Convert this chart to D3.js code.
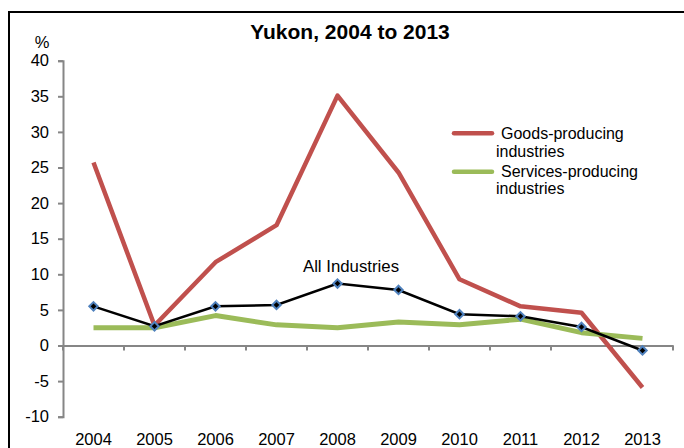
<!DOCTYPE html>
<html><head><meta charset="utf-8">
<script src="https://cdn.jsdelivr.net/npm/d3@7"></script>
<style>body{margin:0;background:#fff}svg{display:block;font-family:"Liberation Sans",Arial,sans-serif}</style>
</head><body><svg id="c" width="684" height="448"></svg>
<script>
const years = ["2004","2005","2006","2007","2008","2009","2010","2011","2012","2013"];
const goods = [25.7, 2.8, 11.7, 16.9, 35.1, 24.3, 9.3, 5.5, 4.6, -5.9];
const services = [2.5, 2.5, 4.2, 2.9, 2.5, 3.3, 2.9, 3.7, 1.8, 1.0];
const allInd = [5.5, 2.7, 5.5, 5.7, 8.7, 7.8, 4.4, 4.1, 2.6, -0.7];
const yTicks = [-10, -5, 0, 5, 10, 15, 20, 25, 30, 35, 40];

const svg = d3.select("#c");
// frame
svg.append("rect").attr("x",9).attr("y",12).attr("width",700).attr("height",460)
  .attr("fill","none").attr("stroke","#000").attr("stroke-width",2);

const x = d3.scaleBand().domain(years).range([63,673]);
const y = d3.scaleLinear().domain([-10,40]).range([416.7,60.7]);
const gray = "#868686";
const fs = 16.5;

// y axis
const ya = svg.append("g").attr("transform","translate(63,0)")
  .call(d3.axisLeft(y).tickValues(yTicks).tickSize(5).tickPadding(9).tickFormat(d=>String(d)));
ya.select(".domain").attr("stroke",gray).attr("stroke-width",2);
ya.selectAll(".tick line").attr("stroke",gray).attr("stroke-width",2);
ya.selectAll(".tick text").attr("font-size",fs).attr("fill","#000")
  .attr("font-family","Liberation Sans, Arial, sans-serif");

// x axis at zero
const xa = svg.append("g").attr("transform",`translate(0,${y(0)})`)
  .call(d3.axisBottom(x).tickSize(0).tickFormat(""));
xa.select(".domain").attr("stroke",gray).attr("stroke-width",2);
const bounds = years.map(d=>x(d)).concat([x.range()[1]]);
svg.append("g").selectAll("line").data(bounds).join("line")
  .attr("x1",d=>d).attr("x2",d=>d).attr("y1",y(0)).attr("y2",y(0)+5)
  .attr("stroke",gray).attr("stroke-width",2);
svg.append("g").selectAll("text").data(years).join("text")
  .attr("x",d=>x(d)+x.bandwidth()/2).attr("y",445).attr("text-anchor","middle")
  .attr("font-size",fs).text(d=>d);

const cx = d => x(d)+x.bandwidth()/2;
const line = d3.line().x((d,i)=>cx(years[i])).y(d=>y(d));
svg.append("path").datum(goods).attr("d",line).attr("fill","none")
  .attr("stroke","#c0504d").attr("stroke-width",4.5).attr("stroke-linejoin","round");
svg.append("path").datum(services).attr("d",line).attr("fill","none")
  .attr("stroke","#9bbb59").attr("stroke-width",5).attr("stroke-linejoin","round");
svg.append("path").datum(allInd).attr("d",line).attr("fill","none")
  .attr("stroke","#000").attr("stroke-width",2.5);
svg.append("g").selectAll("path").data(allInd).join("path")
  .attr("d",d3.symbol(d3.symbolDiamond2,45)())
  .attr("transform",(d,i)=>`translate(${cx(years[i])},${y(d)})`)
  .attr("fill","#000").attr("stroke","#4f81bd").attr("stroke-width",2);

// labels
svg.append("text").attr("x",350).attr("y",38.5).attr("text-anchor","middle")
  .attr("font-size",21).attr("font-weight","bold").text("Yukon, 2004 to 2013");
svg.append("text").attr("x",42).attr("y",48).attr("text-anchor","middle")
  .attr("font-size",fs).text("%");
svg.append("text").attr("x",351).attr("y",272).attr("text-anchor","middle")
  .attr("font-size",16.8).text("All Industries");

// legend
const leg = [{c:"#c0504d",t:["Goods-producing","industries"],y:133.3,b:[139,157]},
             {c:"#9bbb59",t:["Services-producing","industries"],y:171.7,b:[177,194]}];
leg.forEach(l=>{
  svg.append("line").attr("x1",454).attr("x2",492).attr("y1",l.y).attr("y2",l.y)
    .attr("stroke",l.c).attr("stroke-width",4.5).attr("stroke-linecap","round");
  svg.append("text").attr("x",501).attr("y",l.b[0]).attr("font-size",16).text(l.t[0]);
  svg.append("text").attr("x",496).attr("y",l.b[1]).attr("font-size",16).text(l.t[1]);
});
</script></body></html>
